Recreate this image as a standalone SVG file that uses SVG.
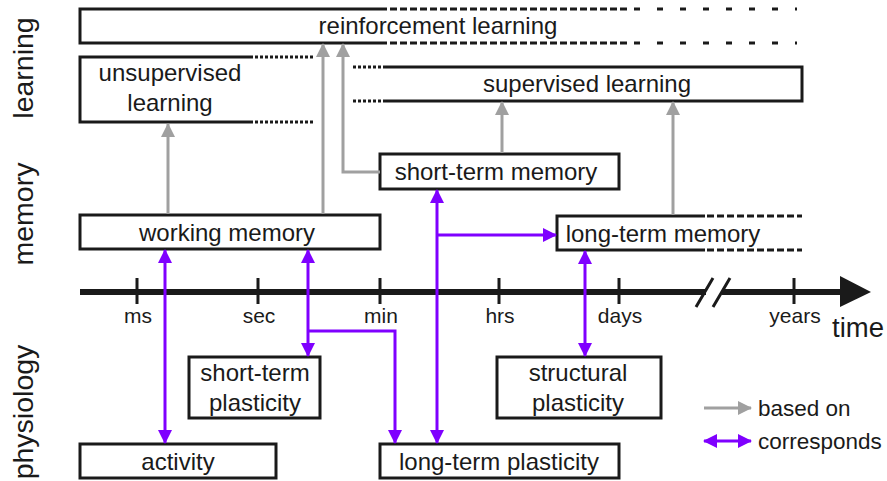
<svg xmlns="http://www.w3.org/2000/svg" width="887" height="481" viewBox="0 0 887 481">
<defs>
<marker id="ag" markerWidth="14" markerHeight="14" refX="13" refY="7" orient="auto" markerUnits="userSpaceOnUse" viewBox="0 0 14 14"><path d="M0,0 L14,7 L0,14 z" fill="#a0a0a0"/></marker>
<marker id="ap" markerWidth="14" markerHeight="14" refX="13" refY="7" orient="auto-start-reverse" markerUnits="userSpaceOnUse" viewBox="0 0 14 14"><path d="M0,0 L14,7 L0,14 z" fill="#7f00ff"/></marker>
<style>
text{font-family:"Liberation Sans",Arial,sans-serif;fill:#1a1a1a}
.bx{fill:none;stroke:#1a1a1a;stroke-width:3}
.ln{fill:none;stroke:#1a1a1a;stroke-width:3}
.lab{font-size:24px;text-anchor:middle}
.ax{font-size:21px;text-anchor:middle}
.leg{font-size:22.5px}
.side{font-size:28.5px;text-anchor:middle}
.g{fill:none;stroke:#a0a0a0;stroke-width:3;marker-end:url(#ag)}
.p{fill:none;stroke:#7f00ff;stroke-width:3;marker-end:url(#ap)}
.pp{fill:none;stroke:#7f00ff;stroke-width:3;marker-end:url(#ap);marker-start:url(#ap)}
.dash1{stroke-dasharray:7 3}
.dash2{stroke-dasharray:6 17}
.dot{stroke-dasharray:3 2}
</style>
</defs>
<rect width="887" height="481" fill="#ffffff"/>
<g id="side-labels">
<text class="side" transform="translate(33,68) rotate(-90)">learning</text>
<text class="side" transform="translate(33,214) rotate(-90)">memory</text>
<text class="side" transform="translate(33,412) rotate(-90)">physiology</text>
</g>
<g id="reinforcement-learning">
<path class="ln" d="M380,9 H80 V43 H380"/>
<path class="ln dash1" d="M380,9 H630 M380,43 H630"/>
<path class="ln dash2" d="M634,9 H797 M634,43 H797"/>
<text class="lab" x="438" y="34">reinforcement learning</text>
</g>
<g id="unsupervised-learning">
<path class="ln" d="M253,57 H80 V122 H253"/>
<path class="ln dot" d="M255,57 H314 M255,122 H314"/>
<text class="lab" x="170" y="81">unsupervised</text>
<text class="lab" x="170" y="111">learning</text>
</g>
<g id="supervised-learning">
<path class="ln" d="M383,67 H802 V101 H383"/>
<path class="ln dot" d="M353,67 H382 M353,101 H382"/>
<text class="lab" x="587" y="92">supervised learning</text>
</g>
<g id="short-term-memory">
<rect class="bx" x="380" y="154" width="239" height="35"/>
<text class="lab" x="496" y="180">short-term memory</text>
</g>
<g id="working-memory">
<rect class="bx" x="80" y="215" width="300" height="34"/>
<text class="lab" x="227" y="241">working memory</text>
</g>
<g id="long-term-memory">
<path class="ln" d="M705,216 H557 V250 H705"/>
<path class="ln dash1" d="M707,216 H802 M707,250 H802"/>
<text class="lab" x="663" y="242">long-term memory</text>
</g>
<g id="timeline">
<path d="M80,292 H706 M722,292 H842" stroke="#1a1a1a" stroke-width="6" fill="none"/>
<path d="M840,276 L871,292 L840,307 z" fill="#1a1a1a"/>
<path d="M696,307 L713,278 M713,307 L730,278" stroke="#1a1a1a" stroke-width="3" fill="none"/>
<path d="M137,278 V304 M258,278 V304 M380,278 V304 M499,278 V304 M619,278 V304 M794,278 V304" stroke="#1a1a1a" stroke-width="3" fill="none"/>
<text class="ax" x="138" y="323">ms</text>
<text class="ax" x="259" y="323">sec</text>
<text class="ax" x="381" y="323">min</text>
<text class="ax" x="500" y="323">hrs</text>
<text class="ax" x="620" y="323">days</text>
<text class="ax" x="795" y="323">years</text>
<text x="832" y="337" style="font-size:27.5px">time</text>
</g>
<g id="short-term-plasticity">
<rect class="bx" x="189" y="357" width="131" height="61"/>
<text class="lab" x="255" y="381">short-term</text>
<text class="lab" x="255" y="411">plasticity</text>
</g>
<g id="structural-plasticity">
<rect class="bx" x="497" y="357" width="164" height="61"/>
<text class="lab" x="578" y="381">structural</text>
<text class="lab" x="578" y="411">plasticity</text>
</g>
<g id="activity">
<rect class="bx" x="80" y="444" width="196" height="34"/>
<text class="lab" x="178" y="470">activity</text>
</g>
<g id="long-term-plasticity">
<rect class="bx" x="380" y="444" width="239" height="34"/>
<text class="lab" x="499" y="470">long-term plasticity</text>
</g>
<g id="connectors">
<path class="g" d="M168,214 V124"/>
<path class="g" d="M323,214 V44"/>
<path class="g" d="M380,172 H343 V44"/>
<path class="g" d="M502,153 V102"/>
<path class="g" d="M673,215 V102"/>
<path class="pp" d="M165,250 V443"/>
<path class="pp" d="M308,250 V356"/>
<path class="p" d="M308,331 H395 V443"/>
<path class="pp" d="M437,190 V443"/>
<path class="p" d="M437,235 H556"/>
<path class="pp" d="M585,251 V356"/>
</g>
<g id="legend">
<path class="g" d="M704,408 H751"/>
<text class="leg" x="758" y="416">based on</text>
<path class="pp" d="M704,441 H751"/>
<text class="leg" x="758" y="449">corresponds</text>
</g>
</svg>
